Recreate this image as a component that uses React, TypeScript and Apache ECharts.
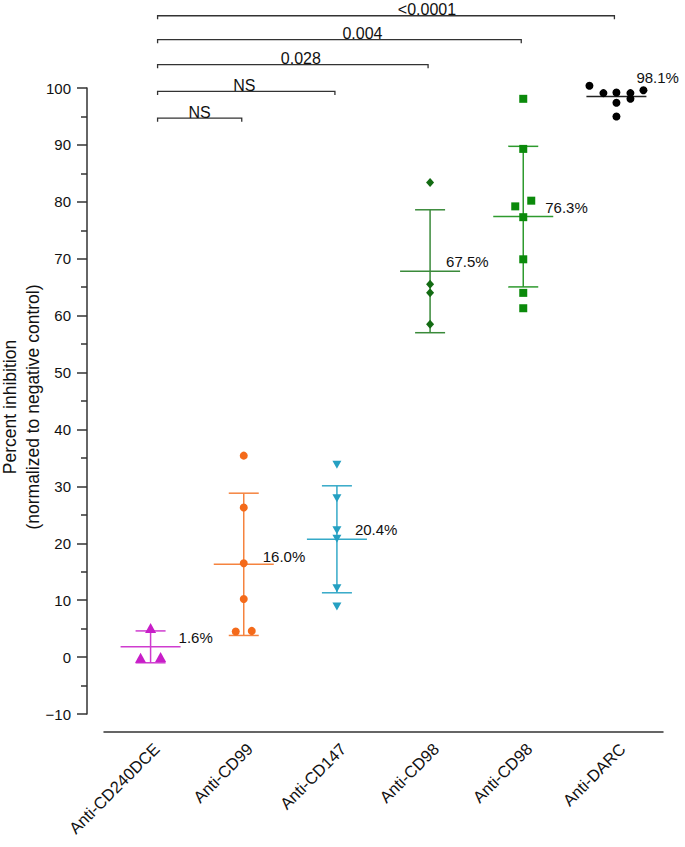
import React, { useEffect, useRef } from "react";
import * as echarts from "echarts";

const categories = ["Anti-CD240DCE", "Anti-CD99", "Anti-CD147", "Anti-CD98", "Anti-CD98", "Anti-DARC"];

// individual measurements per group (percent inhibition)
const cd240dce = [5.1, -0.1, 0.0];
const cd99 = [35.4, 26.3, 16.5, 10.2, 4.5, 4.6];
const cd147 = [33.8, 27.9, 22.3, 20.8, 12.1, 8.9];
const cd98a = [83.4, 65.5, 64.0, 58.5];
const cd98b = [98.1, 89.3, 79.2, 80.2, 77.3, 69.9, 64.0, 61.3];
const darc = [100.4, 99.1, 99.2, 97.4, 95.0, 99.1, 98.1, 99.6];
const groups = [cd240dce, cd99, cd147, cd98a, cd98b, darc];

// horizontal jitter of points (px)
const jitter = [
  [0, -10, 10],
  [0, 0, 0, 0, -8, 8],
  [0, 0, 0, 0, 0, 0],
  [0, 0, 0, 0],
  [0, 0, -8, 8, 0, 0, 0, 0],
  [-27, -13, 0, 0, 0, 14, 14, 27],
];

// mean line and SD
const means = [1.8, 16.3, 20.7, 67.8, 77.4, 98.5];
const sds = [2.8, 12.5, 9.4, 10.8, 12.35, 0];
const meanLabels = ["1.6%", "16.0%", "20.4%", "67.5%", "76.3%", "98.1%"];

// significance brackets (all from group 0)
const compTargets = [1, 2, 3, 4, 5];
const compLabels = ["NS", "NS", "0.028", "0.004", "<0.0001"];
const compLevels = [94.7, 99.4, 104.1, 108.5, 112.7];

const yTicks = { min: -10, max: 100, interval: 10 };

// styles
const pointColors = ["#c81ec8", "#f46a1a", "#25a0c2", "#136b13", "#0b8a0b", "#000000"];
const lineColors = ["#cf3ccf", "#f5833f", "#35a9c8", "#3a8a3a", "#2e9a2e", "#222222"];
const symbols = ["triangle", "circle", "triangle", "diamond", "rect", "circle"];
const symbolRot = [0, 0, 180, 0, 0, 0];
const symbolSizes = [[11, 10], 8, [9, 8], [8, 9], 8, 8];
const labelDx = [28, 19, 18, 16, 22, 20];
const labelDy = [-9, -8, -10, -10, -9, -19];
const compLabelDx = [0, -2, 8, 23, 41];

const FONT = "'Liberation Sans', Arial, Helvetica, sans-serif";

export default function App() {
  const ref = useRef<HTMLDivElement>(null);
  useEffect(() => {
    document.body.style.margin = "0";
    const chart = echarts.init(ref.current!, null, { renderer: "svg" });

    const scatterSeries = groups.map((vals, gi) => ({
      type: "scatter",
      z: 5,
      clip: false,
      symbol: symbols[gi],
      symbolRotate: symbolRot[gi],
      symbolSize: symbolSizes[gi],
      itemStyle: { color: pointColors[gi], opacity: 1 },
      emphasis: { disabled: true },
      data: vals.map((v, k) => ({ value: [gi, v], symbolOffset: [jitter[gi][k], 0] })),
    }));

    const option: any = {
      animation: false,
      grid: { left: 104, right: 22, top: 88, bottom: 133, containLabel: false },
      xAxis: {
        type: "category",
        data: categories,
        boundaryGap: true,
        offset: 18,
        axisLine: { onZero: false, lineStyle: { color: "#333", width: 1.5 } },
        axisTick: { alignWithLabel: true, length: 7, lineStyle: { color: "#333", width: 1.5 } },
        axisLabel: {
          rotate: 45,
          fontSize: 16.5,
          color: "#111",
          fontFamily: FONT,
          margin: 8,
          interval: 0,
          align: "right",
          verticalAlign: "top",
        },
        splitLine: { show: false },
      },
      yAxis: {
        type: "value",
        min: yTicks.min,
        max: yTicks.max,
        interval: yTicks.interval,
        offset: 17,
        axisLine: { show: true, lineStyle: { color: "#333", width: 1.5 } },
        axisTick: { show: true, length: 10, lineStyle: { color: "#333", width: 1.5 } },
        minorTick: { show: true, splitNumber: 2, length: 6, lineStyle: { color: "#333", width: 1.5 } },
        axisLabel: {
          fontSize: 15,
          color: "#111",
          fontFamily: FONT,
          margin: 16,
          formatter: (v: number) => (v < 0 ? "\u2212" + Math.abs(v) : String(v)),
        },
        splitLine: { show: false },
      },
      graphic: [
        {
          type: "text",
          x: 10,
          y: 407,
          rotation: Math.PI / 2,
          style: { text: "Percent inhibition", fontSize: 17.5, fontFamily: FONT, fill: "#111", align: "center", verticalAlign: "middle" },
        },
        {
          type: "text",
          x: 33,
          y: 407,
          rotation: Math.PI / 2,
          style: { text: "(normalized to negative control)", fontSize: 17.5, fontFamily: FONT, fill: "#111", align: "center", verticalAlign: "middle" },
        },
      ],
      series: [
        {
          type: "custom",
          z: 3,
          clip: false,
          encode: { x: 0, y: 1 },
          data: means.map((m, i) => [i, m, sds[i]]),
          renderItem: (params: any, api: any) => {
            const i = api.value(0);
            const m = api.value(1);
            const sd = api.value(2);
            const c = api.coord([i, m]);
            const col = lineColors[i];
            const ls = { stroke: col, lineWidth: 1.5 };
            const children: any[] = [
              { type: "line", shape: { x1: c[0] - 30, y1: c[1], x2: c[0] + 30, y2: c[1] }, style: ls },
            ];
            if (sd > 0) {
              const t = api.coord([i, m + sd]);
              const b = api.coord([i, m - sd]);
              children.push(
                { type: "line", shape: { x1: c[0], y1: t[1], x2: c[0], y2: b[1] }, style: ls },
                { type: "line", shape: { x1: c[0] - 15, y1: t[1], x2: c[0] + 15, y2: t[1] }, style: ls },
                { type: "line", shape: { x1: c[0] - 15, y1: b[1], x2: c[0] + 15, y2: b[1] }, style: ls }
              );
            }
            children.push({
              type: "text",
              x: c[0] + labelDx[i],
              y: c[1] + labelDy[i],
              style: {
                text: meanLabels[i],
                fontSize: 15,
                fontFamily: FONT,
                fill: "#111",
                align: "left",
                verticalAlign: "middle",
              },
            });
            return { type: "group", children };
          },
        },
        {
          type: "custom",
          z: 3,
          clip: false,
          encode: { x: 0, y: 1 },
          data: compTargets.map((t, k) => [t, compLevels[k], k]),
          renderItem: (params: any, api: any) => {
            const to = api.value(0);
            const lvl = api.value(1);
            const k = api.value(2);
            const p0 = api.coord([0, lvl]);
            const p1 = api.coord([to, lvl]);
            const x0 = p0[0] + 7;
            const x1 = p1[0] - 2;
            const y = p0[1];
            return {
              type: "group",
              children: [
                {
                  type: "polyline",
                  shape: { points: [[x0, y + 3.5], [x0, y], [x1, y], [x1, y + 3.5]] },
                  style: { stroke: "#333", lineWidth: 1.3, fill: "none" },
                },
                {
                  type: "text",
                  x: (x0 + x1) / 2 + compLabelDx[k],
                  y: y + 2,
                  style: {
                    text: compLabels[k],
                    fontSize: 16,
                    fontFamily: FONT,
                    fill: "#111",
                    align: "center",
                    verticalAlign: "bottom",
                  },
                },
              ],
            };
          },
        },
        ...scatterSeries,
      ],
    };
    chart.setOption(option);
    return () => chart.dispose();
  }, []);
  return <div ref={ref} style={{ position: "absolute", left: 0, top: 0, width: 685, height: 847 }} />;
}
